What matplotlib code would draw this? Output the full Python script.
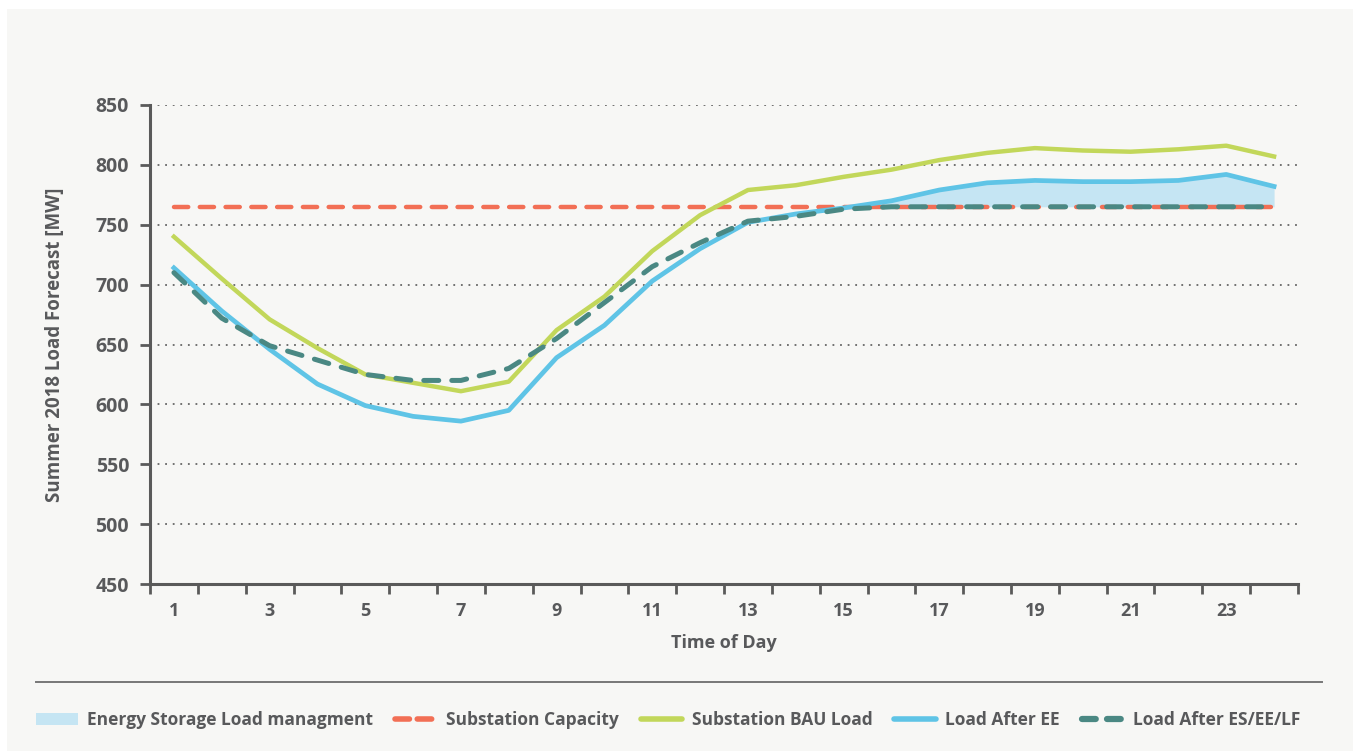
import matplotlib
matplotlib.use("Agg")
import matplotlib.pyplot as plt
from matplotlib.patches import Rectangle, Patch
from matplotlib.lines import Line2D

# ===============================
# DATA
# ===============================
hours = list(range(1, 25))
capacity = [765] * 24
bau_load = [740, 705, 671, 647, 625, 618, 611, 619, 662, 690, 728, 758,
            779, 783, 790, 796, 804, 810, 814, 812, 811, 813, 816, 807]
load_ee = [714, 678, 646, 617, 599, 590, 586, 595, 639, 666, 703, 730,
           752, 759, 764, 770, 779, 785, 787, 786, 786, 787, 792, 782]
load_es = [710, 672, 649, 637, 625, 620, 620, 630, 655, 685, 715, 735,
           753, 757, 763, 765, 765, 765, 765, 765, 765, 765, 765, 765]
x_ticklabels = [str(h) for h in range(1, 24, 2)]

TEXT = "#58595b"
GREEN = "#c2d75a"
BLUE = "#5fc4e6"
TEAL = "#4a8883"
ORANGE = "#f26f55"
FILL = "#c5e5f3"

plt.rcParams["font.family"] = ["Open Sans", "DejaVu Sans"]
plt.rcParams["font.weight"] = "bold"

W, H = 1353, 751
fig = plt.figure(figsize=(W / 100, H / 100), dpi=100)
fig.patch.set_facecolor("white")
fig.add_artist(Rectangle((7 / W, 0), 1 - 7 / W, 1 - 9 / H,
                         transform=fig.transFigure, facecolor="#f7f7f5",
                         edgecolor="none", zorder=0))

ax = fig.add_axes([150 / W, 1 - 584 / H, (1298 - 150) / W, (584 - 105) / H])
ax.set_facecolor("none")

# ===============================
# SERIES
# ===============================
ax.fill_between(hours, capacity, load_ee,
                where=[e >= c for e, c in zip(load_ee, capacity)],
                interpolate=True, color=FILL, linewidth=0, zorder=1)
ax.plot(hours, capacity, color=ORANGE, linewidth=3.2, dashes=(3.2, 2.6),
        dash_capstyle="round", zorder=2)
ax.plot(hours, bau_load, color=GREEN, linewidth=3.2, zorder=3)
ax.plot(hours, load_ee, color=BLUE, linewidth=3.4, zorder=4)
ax.plot(hours, load_es, color=TEAL, linewidth=3.6, dashes=(3.0, 2.6),
        dash_capstyle="round", zorder=5)

# ===============================
# AXES STYLE
# ===============================
ax.set_xlim(0.5, 24.5)
ax.set_ylim(450, 850)
ax.set_yticks(range(450, 851, 50))
ax.set_xticks([h + 0.5 for h in range(0, 25)])
ax.set_xticklabels([])
ax.set_xticks(list(range(1, 24, 2)), minor=True)
ax.set_xticklabels(x_ticklabels, minor=True)
ax.tick_params(axis="x", which="major", length=7, width=2, color="#5a5a5a",
               direction="out")
ax.tick_params(axis="x", which="minor", length=0, pad=13, labelsize=13,
               labelcolor=TEXT)
ax.tick_params(axis="y", length=7, width=2, color="#5a5a5a", pad=8,
               labelsize=14, labelcolor=TEXT)
for lab in ax.get_xticklabels(minor=True) + ax.get_yticklabels():
    lab.set_fontweight("bold")

for s in ["top", "right"]:
    ax.spines[s].set_visible(False)
for s in ["left", "bottom"]:
    ax.spines[s].set_color("#5a5a5a")
    ax.spines[s].set_linewidth(2.2)

for y in range(500, 851, 50):
    ax.axhline(y, color="#666666", linestyle=(0, (1, 3.2)), linewidth=1.3,
               zorder=0.5)

ax.set_xlabel("Time of Day", fontsize=13, color=TEXT, fontweight="bold",
              labelpad=10)
ax.set_ylabel("Summer 2018 Load Forecast [MW]", fontsize=13.5, color=TEXT,
              fontweight="bold", labelpad=22)

# ===============================
# LEGEND
# ===============================
fig.add_artist(Line2D([36 / W, 1322 / W], [1 - 682 / H, 1 - 682 / H],
                      transform=fig.transFigure, color="#777777", linewidth=1.4))

handles = [
    Patch(facecolor=FILL, edgecolor="none"),
    Line2D([], [], color=ORANGE, linewidth=4, dashes=(2.6, 1.4), dash_capstyle="round"),
    Line2D([], [], color=GREEN, linewidth=4, solid_capstyle="round"),
    Line2D([], [], color=BLUE, linewidth=4, solid_capstyle="round"),
    Line2D([], [], color=TEAL, linewidth=4.5, dashes=(2.2, 1.8), dash_capstyle="round"),
]
labels = ["Energy Storage Load managment", "Substation Capacity",
          "Substation BAU Load", "Load After EE", "Load After ES/EE/LF"]
leg = fig.legend(handles, labels, loc="center left", ncol=5,
                 bbox_to_anchor=(36 / W, 1 - 720 / H), frameon=False,
                 borderpad=0, borderaxespad=0,
                 handlelength=2.4, handletextpad=0.55, columnspacing=1.25,
                 prop={"size": 12.5, "weight": "bold"})
for t in leg.get_texts():
    t.set_color(TEXT)

fig.savefig("out.png", dpi=100, facecolor=fig.get_facecolor())
